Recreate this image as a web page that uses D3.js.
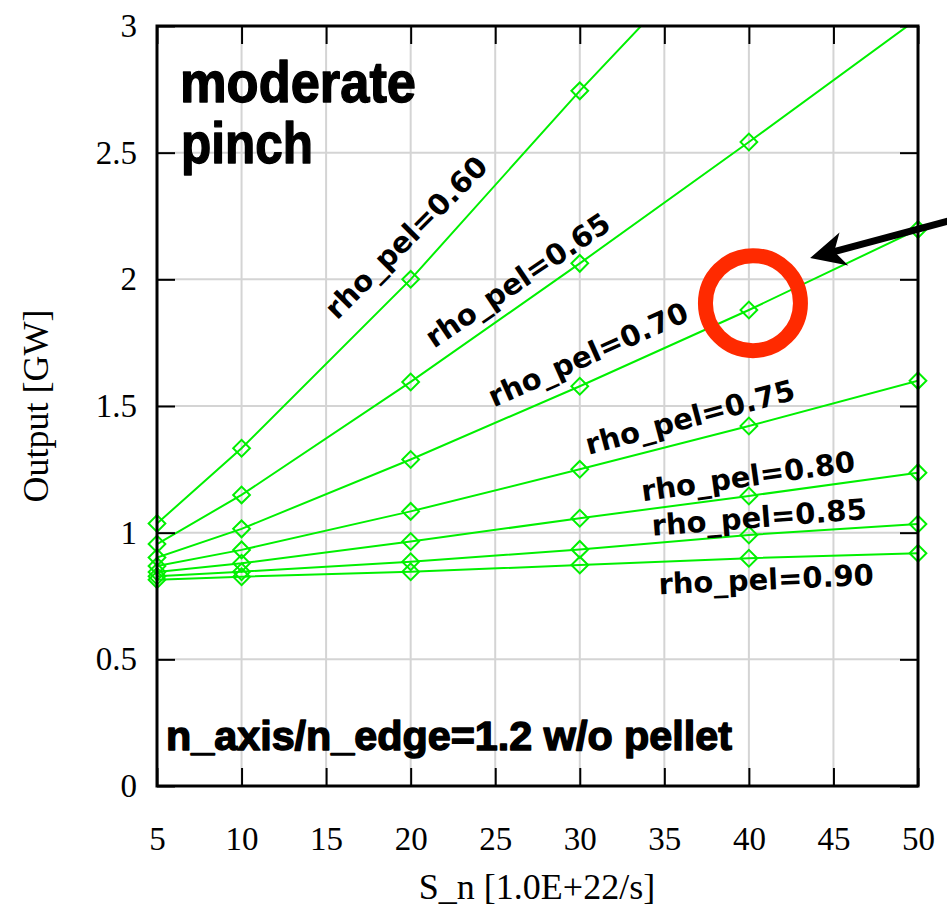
<!DOCTYPE html>
<html>
<head>
<meta charset="utf-8">
<script src="https://cdn.jsdelivr.net/npm/d3@7"></script>
<style>
  body { margin: 0; background: #fff; }
  svg { display: block; }
  .tick text { font-family: 'Liberation Serif', 'Times New Roman', serif; font-size: 33px; fill: #000; }
</style>
</head>
<body>
<div id="chart"></div>
<script>
// data
const xVals = [5, 10, 20, 30, 40, 50];
const out060 = [1.036, 1.333, 2.000, 2.744, 3.45, 4.2];
const out065 = [0.955, 1.149, 1.595, 2.063, 2.542, 3.03];
const out070 = [0.902, 1.015, 1.289, 1.578, 1.879, 2.197];
const out075 = [0.868, 0.932, 1.084, 1.250, 1.421, 1.600];
const out080 = [0.845, 0.879, 0.965, 1.057, 1.145, 1.237];
const out085 = [0.828, 0.846, 0.885, 0.934, 0.991, 1.034];
const out090 = [0.814, 0.826, 0.846, 0.872, 0.899, 0.919];
const seriesNames = ['rho_pel=0.60', 'rho_pel=0.65', 'rho_pel=0.70', 'rho_pel=0.75',
  'rho_pel=0.80', 'rho_pel=0.85', 'rho_pel=0.90'];
const seriesValues = [out060, out065, out070, out075, out080, out085, out090];

const xTicks = [5, 10, 15, 20, 25, 30, 35, 40, 45, 50];
const yTicks = [0, 0.5, 1, 1.5, 2, 2.5, 3];

// label anchors (data units) and rotation
const labelX = [19.72, 26.32, 30.49, 36.52, 39.95, 40.60, 41.02];
const labelY = [2.167, 1.998, 1.705, 1.457, 1.224, 1.062, 0.817];
const labelAngle = [-45, -34, -24, -15, -8, -4.5, -2.5];

const width = 947, height = 911;
const margin = { left: 157, top: 26, right: 29, bottom: 125 };
const innerW = width - margin.left - margin.right;
const innerH = height - margin.top - margin.bottom;
const green = '#00f000';

const svg = d3.select('#chart').append('svg')
  .attr('width', width)
  .attr('height', height);

const g = svg.append('g')
  .attr('transform', 'translate(' + margin.left + ',' + margin.top + ')');

const x = d3.scaleLinear().domain([5, 50]).range([0, innerW]);
const y = d3.scaleLinear().domain([0, 3]).range([innerH, 0]);

// grid
g.append('g').selectAll('line').data(xTicks).join('line')
  .attr('x1', d => x(d)).attr('x2', d => x(d))
  .attr('y1', 0).attr('y2', innerH)
  .attr('stroke', '#d4d4d4').attr('stroke-width', 2);
g.append('g').selectAll('line').data(yTicks).join('line')
  .attr('y1', d => y(d)).attr('y2', d => y(d))
  .attr('x1', 0).attr('x2', innerW)
  .attr('stroke', '#d4d4d4').attr('stroke-width', 2);

// clip for lines
svg.append('defs').append('clipPath').attr('id', 'plotClip')
  .append('rect').attr('width', innerW).attr('height', innerH);

const line = d3.line()
  .x((d, i) => x(xVals[i]))
  .y(d => y(d));

g.append('g').attr('clip-path', 'url(#plotClip)')
  .selectAll('path').data(seriesValues).join('path')
  .attr('d', d => line(d))
  .attr('fill', 'none')
  .attr('stroke', green)
  .attr('stroke-width', 2);

// diamond markers
const diamond = d3.symbol().type(d3.symbolSquare).size(140);
seriesValues.forEach(vals => {
  g.append('g').selectAll('path')
    .data(vals.map((v, i) => [xVals[i], v]).filter(p => p[1] <= 3))
    .join('path')
    .attr('d', diamond)
    .attr('transform', d => 'translate(' + x(d[0]) + ',' + y(d[1]) + ') rotate(45)')
    .attr('fill', 'none')
    .attr('stroke', green)
    .attr('stroke-width', 2);
});

// axes: ticks point inward on all four sides
const tickLen = 18;
g.append('g').attr('transform', 'translate(0,' + innerH + ')')
  .call(d3.axisBottom(x).tickValues(xTicks).tickSizeInner(-tickLen).tickSizeOuter(0)
    .tickPadding(41).tickFormat(d3.format('')));
g.append('g')
  .call(d3.axisLeft(y).tickValues(yTicks).tickSizeInner(-tickLen).tickSizeOuter(0)
    .tickPadding(20).tickFormat(d3.format('')));
g.append('g')
  .call(d3.axisTop(x).tickValues(xTicks).tickSizeInner(-tickLen).tickSizeOuter(0).tickFormat(''));
g.append('g').attr('transform', 'translate(' + innerW + ',0)')
  .call(d3.axisRight(y).tickValues(yTicks).tickSizeInner(-tickLen).tickSizeOuter(0).tickFormat(''));
g.selectAll('.domain').remove();
g.selectAll('.tick line').attr('stroke', '#000').attr('stroke-width', 2);

// frame
g.append('rect')
  .attr('width', innerW).attr('height', innerH)
  .attr('fill', 'none').attr('stroke', '#000').attr('stroke-width', 3);

// axis titles
svg.append('text')
  .attr('x', 537).attr('y', 899)
  .attr('text-anchor', 'middle')
  .style('font-family', "'Liberation Serif', serif")
  .style('font-size', '36px')
  .text('S_n [1.0E+22/s]');
svg.append('text')
  .attr('transform', 'translate(48,406) rotate(-90)')
  .attr('text-anchor', 'middle')
  .style('font-family', "'Liberation Serif', serif")
  .style('font-size', '36px')
  .text('Output [GW]');

// series labels
g.append('g').selectAll('text').data(seriesNames).join('text')
  .attr('transform', (d, i) => 'translate(' + x(labelX[i]) + ',' + y(labelY[i]) + ') rotate(' + labelAngle[i] + ')')
  .attr('text-anchor', 'middle')
  .attr('dy', '0.36em')
  .style('font-family', "'DejaVu Sans', sans-serif")
  .style('font-weight', 'bold')
  .style('font-size', '29px')
  .text(d => d);

// big annotations (condensed heavy sans)
const bold = "'Liberation Sans', Arial, sans-serif";
function heavyText(tx, ty, len, size, str) {
  svg.append('text').attr('x', tx).attr('y', ty)
    .attr('textLength', len).attr('lengthAdjust', 'spacingAndGlyphs')
    .attr('stroke', '#000').attr('stroke-width', 1.4).attr('stroke-linejoin', 'round')
    .style('font-family', bold).style('font-weight', 'bold').style('font-size', size + 'px')
    .text(str);
}
heavyText(180, 102, 236, 57, 'moderate');
heavyText(181, 163, 132, 57, 'pinch');
heavyText(166, 750, 566, 40, 'n_axis/n_edge=1.2 w/o pellet');

// red ring at rho_pel=0.70, S_n=40
g.append('circle')
  .attr('cx', x(40.24)).attr('cy', y(1.906)).attr('r', 47.5)
  .attr('fill', 'none').attr('stroke', '#ff2a00').attr('stroke-width', 15);

// arrow pointing at the ring
const tip = [x(43.62), y(2.084)];
const tail = [x(52.6), y(2.245)];
const ang = Math.atan2(tail[1] - tip[1], tail[0] - tip[0]) * 180 / Math.PI;
const len = Math.hypot(tail[0] - tip[0], tail[1] - tip[1]);
const arrow = g.append('g')
  .attr('transform', 'translate(' + tip[0] + ',' + tip[1] + ') rotate(' + ang + ')');
arrow.append('line')
  .attr('x1', 24).attr('y1', 0).attr('x2', len).attr('y2', 0)
  .attr('stroke', '#000').attr('stroke-width', 7);
arrow.append('path')
  .attr('d', 'M0,0 L35,-17 L25,0 L35,17 Z')
  .attr('fill', '#000');
</script>
</body>
</html>
